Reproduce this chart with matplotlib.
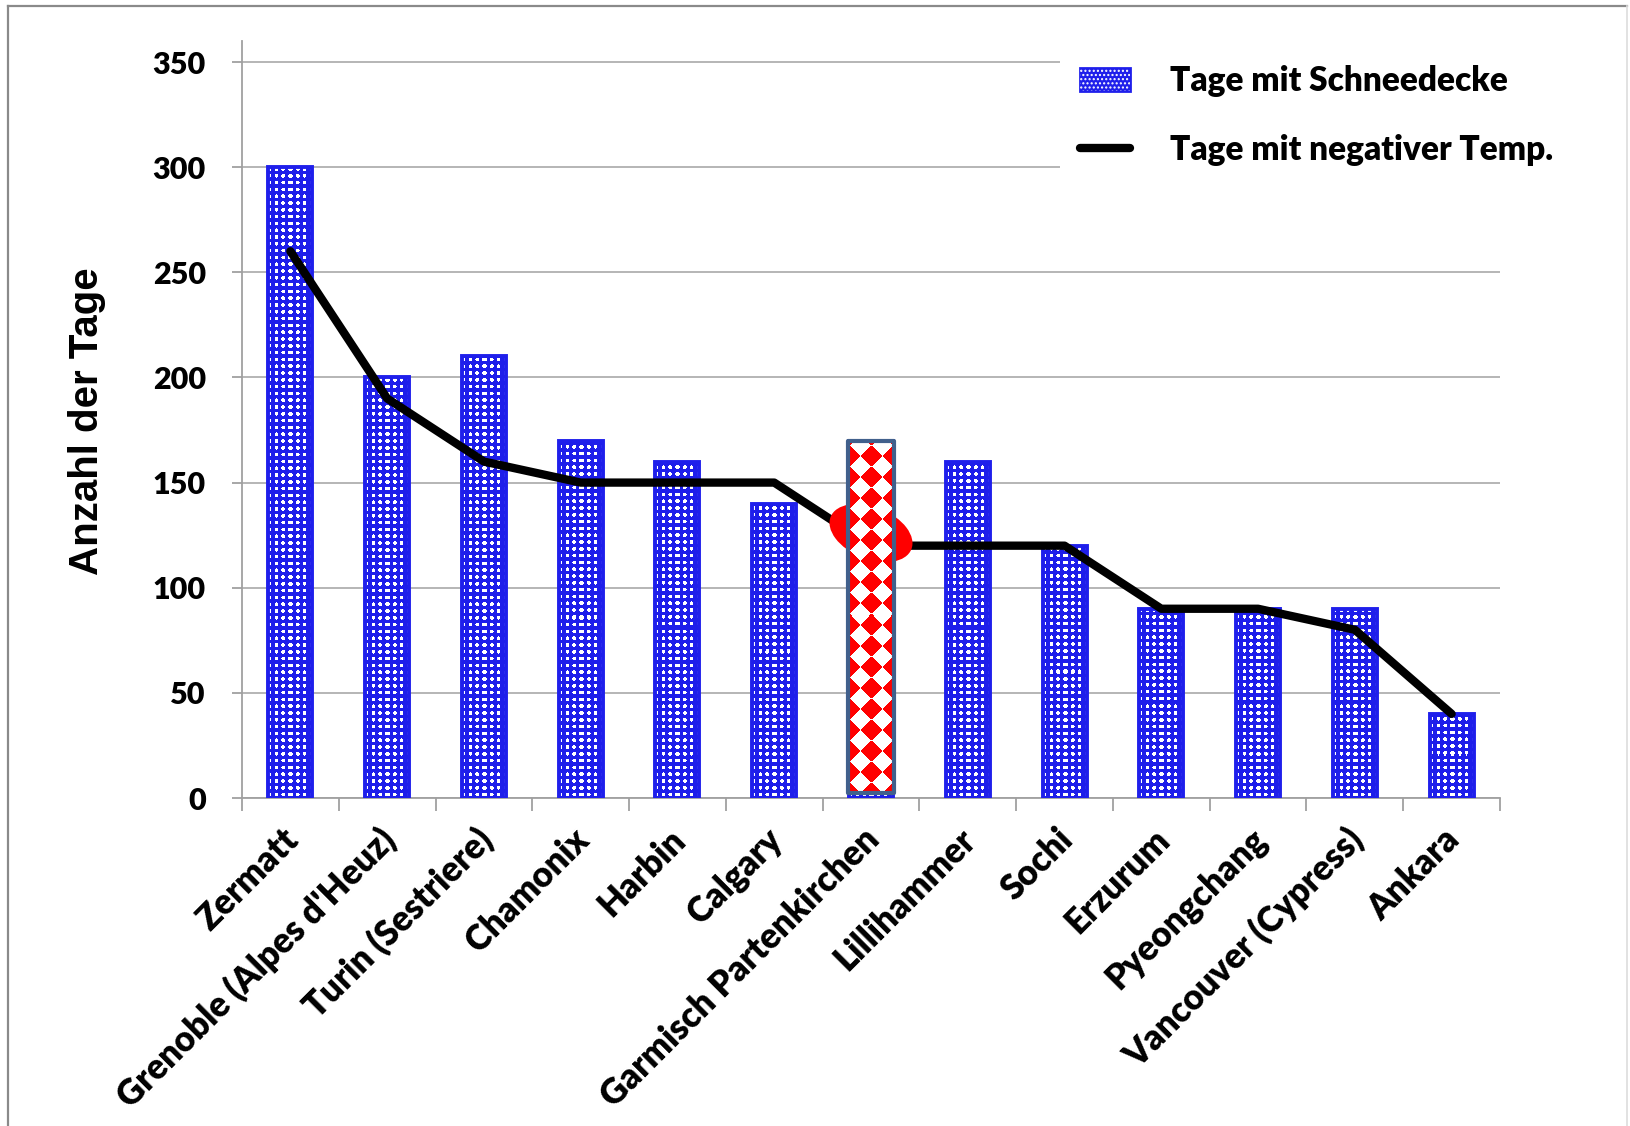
import numpy as np
import matplotlib
matplotlib.use("Agg")
import matplotlib.pyplot as plt
from matplotlib.patches import Rectangle, Ellipse
from matplotlib.lines import Line2D
from matplotlib.legend_handler import HandlerBase
from matplotlib.transforms import ScaledTranslation

plt.rcParams['font.family'] = ['Lato', 'DejaVu Sans']
plt.rcParams['font.weight'] = 'heavy'

# Data
orte = ["Zermatt", "Grenoble (Alpes d'Heuz)", "Turin (Sestriere)", "Chamonix",
        "Harbin", "Calgary", "Garmisch Partenkirchen", "Lillihammer", "Sochi",
        "Erzurum", "Pyeongchang", "Vancouver (Cypress)", "Ankara"]
tage_schneedecke = [300, 200, 210, 170, 160, 140, 170, 160, 120, 90, 90, 90, 40]
tage_negativ = [260, 190, 160, 150, 150, 150, 120, 120, 120, 90, 90, 80, 40]
hervorgehoben = "Garmisch Partenkirchen"
y_ticks = [0, 50, 100, 150, 200, 250, 300, 350]

BLUE = (0.12, 0.12, 0.92)
W, H = 1631, 1126
fig = plt.figure(figsize=(W / 100, H / 100), dpi=100)
ax = fig.add_axes([242 / W, 1 - 798 / H, (1500 - 242) / W, (798 - 41) / H])
ax.set_xlim(-0.5, len(orte) - 0.5)
ax.set_ylim(0, 360)

x = np.arange(len(orte))
bar_w = 0.455


def dot_pattern(w, h, period=6.8, radius=1.9):
    yy, xx = np.mgrid[0:h, 0:w] + 0.5
    dx = ((xx - w / 2 + period / 2) % period) - period / 2
    dy = (yy % period) - period / 2
    mask = dx ** 2 + dy ** 2 <= radius ** 2
    img = np.empty((h, w, 3))
    img[:] = BLUE
    img[mask] = (1, 1, 1)
    return img


def diamond_pattern(w, h, a=21.0):
    yy, xx = np.mgrid[0:h, 0:w] + 0.5
    xs = xx - w / 2 + a / 2
    u = np.floor((xs + yy) / a)
    v = np.floor((xs - yy) / a)
    red = ((u + v) % 2 == 0)
    img = np.ones((h, w, 3))
    img[red] = (1, 0, 0)
    return img


def pixel_size(x0, x1, y0, y1):
    p = ax.transData.transform([(x0, y0), (x1, y1)])
    return max(int(round(p[1, 0] - p[0, 0])), 1), max(int(round(p[1, 1] - p[0, 1])), 1)


# Patterned bars
for xi, v in zip(x, tage_schneedecke):
    x0, x1 = xi - bar_w / 2, xi + bar_w / 2
    pw, ph = pixel_size(x0, x1, 0, v)
    ax.imshow(dot_pattern(pw, ph), extent=(x0, x1, 0, v), origin='lower',
              aspect='auto', interpolation='nearest', zorder=2)
ax.bar(x, tage_schneedecke, width=bar_w, facecolor='none', edgecolor=BLUE,
       linewidth=2.8, zorder=3)

# Frost-day line
ax.plot(x, tage_negativ, color='black', linewidth=6, solid_capstyle='round',
        solid_joinstyle='round', zorder=4)

# Highlighted location
hi = orte.index(hervorgehoben)
ell = Ellipse((0, 0), 0.87, 0.52, angle=-22, facecolor='red', edgecolor='none',
              transform=fig.dpi_scale_trans + ScaledTranslation(hi, tage_negativ[hi] + 6, ax.transData),
              zorder=5)
ax.add_artist(ell)
hw = 0.48
hx0, hx1 = hi - hw / 2, hi + hw / 2
hb = 2.5
pw, ph = pixel_size(hx0, hx1, hb, tage_schneedecke[hi])
ax.imshow(diamond_pattern(pw, ph), extent=(hx0, hx1, hb, tage_schneedecke[hi]),
          origin='lower', aspect='auto', interpolation='nearest', zorder=6)
ax.add_patch(Rectangle((hx0, hb), hw, tage_schneedecke[hi] - hb, facecolor='none',
                       edgecolor='#41608c', linewidth=3, joinstyle='round', zorder=7))

ax.set_xlim(-0.5, len(orte) - 0.5)
ax.set_ylim(0, 360)

# Axes styling
for s in ['top', 'right']:
    ax.spines[s].set_visible(False)
for s in ['left', 'bottom']:
    ax.spines[s].set_color('#a0a0a0')
    ax.spines[s].set_linewidth(1.3)
ax.set_axisbelow(True)
ax.yaxis.grid(True, color='#b0b0b0', linewidth=1.3)
ax.set_yticks(y_ticks)
ax.tick_params(axis='y', direction='out', length=7, width=1.3, color='#a0a0a0',
               labelsize=22, pad=19)
ax.set_xticks(x)
ax.set_xticks(np.arange(-0.5, len(orte)), minor=True)
ax.tick_params(axis='x', which='major', length=0, pad=26)
ax.tick_params(axis='x', which='minor', direction='out', length=9, width=1.3, color='#a0a0a0')
ax.set_xticklabels(orte, rotation=45, ha='right', va='center', rotation_mode='anchor',
                   fontsize=25)
shift = ScaledTranslation(0.03, 0, fig.dpi_scale_trans)
for lab in ax.get_xticklabels():
    lab.set_transform(lab.get_transform() + shift)
    lab.set_fontweight('heavy')
for lab in ax.get_yticklabels():
    lab.set_fontweight('heavy')

fig.text(87 / W, 1 - 421 / H, 'Anzahl der Tage', rotation=90, fontsize=29,
         family=['Liberation Sans', 'DejaVu Sans'], fontweight='bold',
         ha='center', va='center')


# Legend
class PatternHandler(HandlerBase):
    def create_artists(self, legend, orig_handle, xdescent, ydescent, width, height,
                       fontsize, trans):
        r1 = Rectangle((-xdescent, -ydescent), width, height, facecolor=BLUE,
                       edgecolor=BLUE, linewidth=2, transform=trans)
        r2 = Rectangle((-xdescent, -ydescent), width, height, facecolor='none',
                       edgecolor='white', hatch='....', linewidth=0, transform=trans)
        return [r1, r2]


bar_handle = Rectangle((0, 0), 1, 1)
line_handle = Line2D([], [], color='black', linewidth=6, solid_capstyle='round')
leg = ax.legend([bar_handle, line_handle], ['Tage mit Schneedecke', 'Tage mit negativer Temp.'],
                handler_map={Rectangle: PatternHandler()},
                loc='upper left', bbox_to_anchor=(1060 / W, 1 - 45 / H),
                bbox_transform=fig.transFigure, fontsize=24, frameon=True,
                facecolor='white', edgecolor='none', framealpha=1, fancybox=False,
                borderpad=0.6, borderaxespad=0, handlelength=1.5, handleheight=0.7,
                handletextpad=1.2, labelspacing=1.1)
leg.set_zorder(10)
for t in leg.get_texts():
    t.set_fontweight('heavy')

# Outer frame
fig.add_artist(Line2D([8 / W, 8 / W], [0, 1 - 6 / H], color='#8a8a8a', linewidth=1.6,
                      transform=fig.transFigure))
fig.add_artist(Line2D([8 / W, 1627 / W], [1 - 6 / H, 1 - 6 / H], color='#8a8a8a',
                      linewidth=1.6, transform=fig.transFigure))
fig.add_artist(Line2D([1627 / W, 1627 / W], [0, 1 - 6 / H], color='#dddddd', linewidth=1.2,
                      transform=fig.transFigure))

fig.savefig('out.png', dpi=100)
